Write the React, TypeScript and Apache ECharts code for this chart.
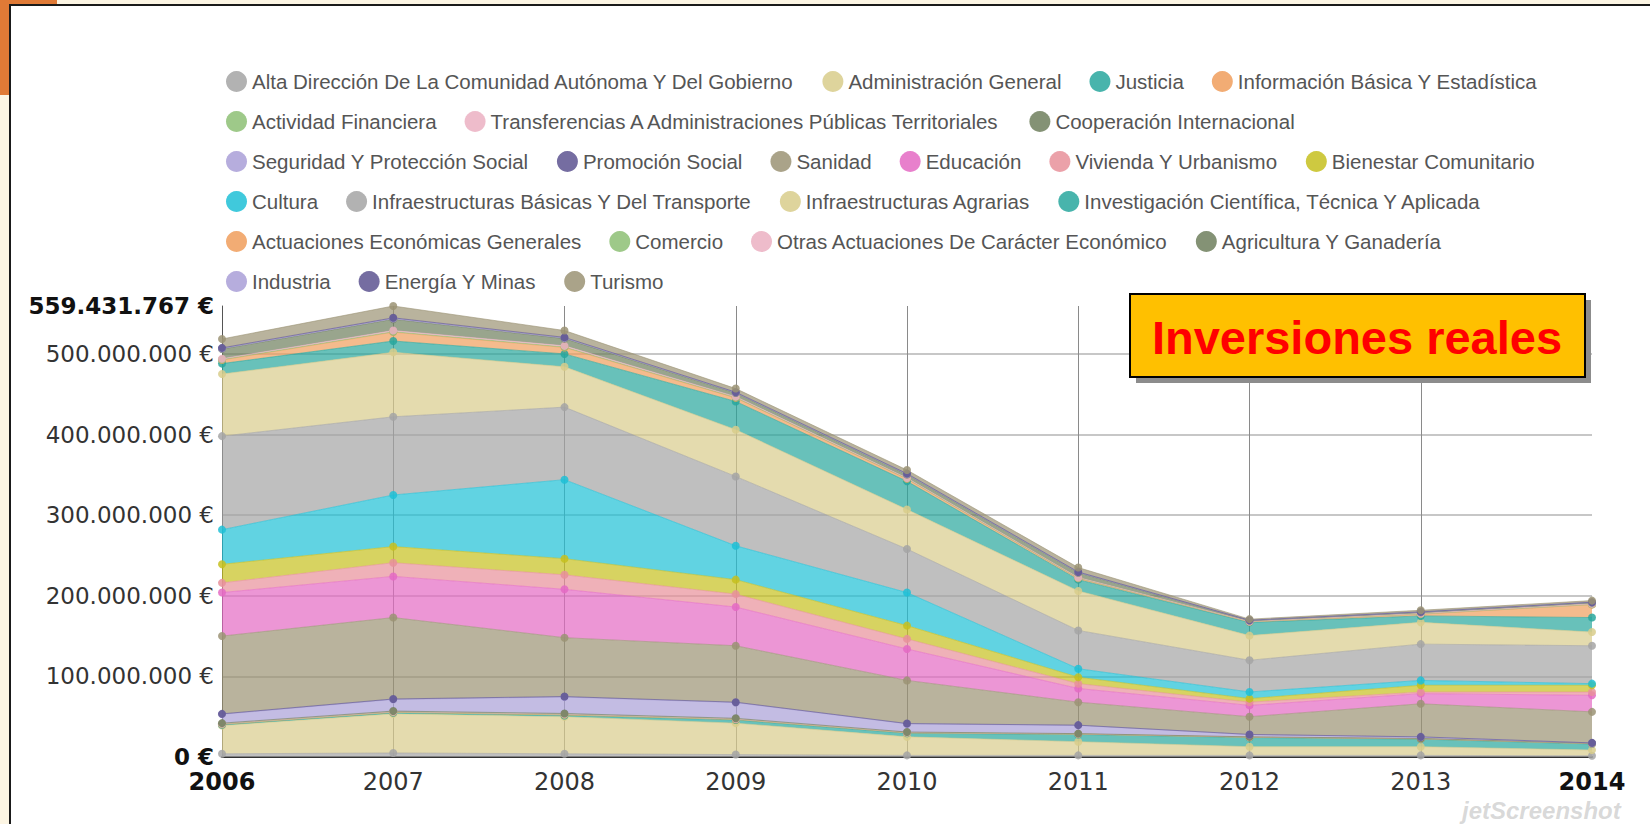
import React, { useEffect, useRef } from "react";
import * as echarts from "echarts";

// ---------- DATA (values in millions of €) ----------
const years = ["2006", "2007", "2008", "2009", "2010", "2011", "2012", "2013", "2014"];

const seriesNames = [
  "Alta Dirección De La Comunidad Autónoma Y Del Gobierno",
  "Administración General",
  "Justicia",
  "Información Básica Y Estadística",
  "Actividad Financiera",
  "Transferencias A Administraciones Públicas Territoriales",
  "Cooperación Internacional",
  "Seguridad Y Protección Social",
  "Promoción Social",
  "Sanidad",
  "Educación",
  "Vivienda Y Urbanismo",
  "Bienestar Comunitario",
  "Cultura",
  "Infraestructuras Básicas Y Del Transporte",
  "Infraestructuras Agrarias",
  "Investigación Científica, Técnica Y Aplicada",
  "Actuaciones Económicas Generales",
  "Comercio",
  "Otras Actuaciones De Carácter Económico",
  "Agricultura Y Ganadería",
  "Industria",
  "Energía Y Minas",
  "Turismo",
];

const altaDireccion = [4, 5, 4, 3, 2, 2, 2, 2, 1.5];
const administracionGeneral = [35, 48.5, 46, 39, 23, 17, 10.8, 10.8, 7.1];
const justicia = [1, 1.3, 1.5, 4, 4.5, 9, 11.4, 9.4, 7.6];
const informacionBasica = [0.6, 0.7, 0.8, 0.6, 0.5, 0.4, 0.3, 0.3, 0.3];
const actividadFinanciera = [0.3, 0.3, 0.3, 0.2, 0.2, 0.1, 0.1, 0.1, 0.1];
const transferencias = [0.4, 0.4, 0.5, 0.4, 0.3, 0.2, 0.2, 0.2, 0.2];
const cooperacion = [0.7, 0.8, 0.9, 0.8, 0.5, 0.3, 0.2, 0.2, 0.2];
const seguridadSocial = [11, 14.4, 20.4, 19.5, 10.1, 10.2, 2.8, 1.8, 0.4];
const promocionSocial = [0.5, 0.6, 0.6, 0.5, 0.4, 0.3, 0.2, 0.2, 0.1];
const sanidad = [96.5, 101, 73, 70, 53.5, 28.5, 22, 41, 38.5];
const educacion = [54, 51, 60, 48, 39, 17, 14, 12.6, 20.5];
const vivienda = [12, 17, 18, 16, 12.5, 6, 4, 2, 4.1];
const bienestar = [23, 20, 20, 18, 16.5, 8, 4.4, 8.4, 8.4];
const cultura = [43, 64, 98, 42, 41, 10.5, 8.3, 6, 2];
const infraBasicas = [116, 97, 90, 86, 54, 47.5, 39.3, 45, 47];
const infraAgrarias = [77, 80, 50, 58, 49, 49, 30.6, 27, 17];
const investigacion = [13, 14, 16, 35, 35, 14, 16.4, 8, 18];
const actuacionesEconomicas = [4.5, 11, 8, 4.5, 3, 1.8, 0.6, 2.2, 16];
const comercio = [0.5, 0.6, 0.6, 0.5, 0.4, 0.3, 0.2, 0.3, 0.3];
const otrasActuaciones = [1, 1.4, 1.4, 1, 0.6, 0.5, 0.2, 0.5, 0.7];
const agricultura = [12, 14, 9, 4.5, 4.5, 6, 1.2, 1.5, 1.5];
const industria = [0.8, 1, 0.8, 0.6, 0.5, 0.5, 0.2, 0.3, 0.3];
const energia = [0.7, 0.8, 0.7, 0.4, 0.5, 0.4, 0.3, 0.2, 0.2];
const turismo = [11, 14.631767, 8.5, 4.5, 4.5, 5.5, 1.3, 2, 2];

const seriesValues = [
  altaDireccion, administracionGeneral, justicia, informacionBasica, actividadFinanciera,
  transferencias, cooperacion, seguridadSocial, promocionSocial, sanidad, educacion,
  vivienda, bienestar, cultura, infraBasicas, infraAgrarias, investigacion,
  actuacionesEconomicas, comercio, otrasActuaciones, agricultura, industria, energia, turismo,
];

const palette = [
  "#a4a4a4", "#d8cc8b", "#28a79d", "#f09e5c", "#8dc074", "#ebb0c2", "#6e7f5d",
  "#a99fd7", "#5d5491", "#9b9374", "#e46ac3", "#e8909a", "#c6c01e", "#1ec0d6",
];

const legendRows = [
  [0, 1, 2, 3],
  [4, 5, 6],
  [7, 8, 9, 10, 11, 12],
  [13, 14, 15, 16],
  [17, 18, 19, 20],
  [21, 22, 23],
];

const yMax = 559431767;
const yInterval = 100000000;

function fmtEuro(v: number): string {
  return Math.round(v).toString().replace(/\B(?=(\d{3})+(?!\d))/g, ".") + " €";
}

export default function App() {
  const ref = useRef<HTMLDivElement>(null);

  useEffect(() => {
    if (!ref.current) return;
    const chart = echarts.init(ref.current, null, { renderer: "svg" });

    const series = seriesNames.map((name, i) => {
      const c = palette[i % palette.length];
      return {
        name,
        type: "line",
        stack: "total",
        data: seriesValues[i].map((v) => Math.round(v * 1e6)),
        symbol: "circle",
        symbolSize: 8,
        showSymbol: true,
        lineStyle: { width: 1, color: c, opacity: 0.6 },
        areaStyle: { color: c, opacity: 0.7 },
        itemStyle: { color: c, opacity: 0.85 },
        emphasis: { disabled: true },
        silent: true,
      };
    });

    const legends = legendRows.map((row, r) => ({
      show: true,
      left: 221,
      top: 66 + r * 40,
      orient: "horizontal",
      itemGap: 28,
      itemWidth: 21,
      itemHeight: 21,
      icon: "circle",
      selectedMode: false,
      textStyle: { fontSize: 20.5, color: "#555", fontFamily: "Liberation Sans" },
      data: row.map((i) => seriesNames[i]),
    }));

    const option: any = {
      animation: false,
      backgroundColor: "#fcf5e3",
      legend: legends,
      grid: { left: 222, right: 58, top: 306, bottom: 67, containLabel: false },
      xAxis: {
        type: "category",
        data: years,
        boundaryGap: false,
        axisLine: { show: true, lineStyle: { color: "#333", width: 2 } },
        axisTick: { show: false },
        splitLine: {
          show: true,
          interval: (idx: number) => idx !== 0 && idx !== years.length - 1,
          lineStyle: { color: "#8a8a8a", width: 1 },
        },
        axisLabel: {
          margin: 13,
          fontSize: 24,
          fontFamily: "DejaVu Sans",
          color: "#333",
          formatter: (v: string, idx: number) =>
            idx === 0 || idx === years.length - 1 ? `{b|${v}}` : v,
          rich: {
            b: { fontSize: 24, fontFamily: "DejaVu Sans", fontWeight: "bold", color: "#111" },
          },
        },
      },
      yAxis: {
        type: "value",
        min: 0,
        max: yMax,
        interval: yInterval,
        axisLine: { show: true, lineStyle: { color: "#555", width: 1 } },
        axisTick: { show: false },
        splitLine: {
          show: true,
          showMaxLine: false,
          showMinLine: false,
          lineStyle: { color: "#b4b4b4", width: 1.5 },
        },
        axisLabel: {
          margin: 8,
          fontSize: 23,
          fontFamily: "DejaVu Sans",
          color: "#333",
          formatter: (v: number) =>
            v === 0 || v >= yMax - 1 ? `{b|${fmtEuro(v)}}` : fmtEuro(v),
          rich: {
            b: { fontSize: 23, fontFamily: "DejaVu Sans", fontWeight: "bold", color: "#111" },
          },
        },
      },
      series,
      graphic: [
        {
          type: "rect",
          z: -10,
          silent: true,
          shape: { x: 0, y: 0, width: 57, height: 95 },
          style: { fill: "#e07a36" },
        },
        {
          type: "rect",
          z: -9,
          silent: true,
          shape: { x: 10, y: 5, width: 1700, height: 900 },
          style: { fill: "#ffffff", stroke: "#1a1a1a", lineWidth: 2 },
        },
        {
          type: "rect",
          z: 20,
          silent: true,
          shape: { x: 1136, y: 300, width: 455, height: 83 },
          style: { fill: "#8c8c8c" },
        },
        {
          type: "rect",
          z: 21,
          silent: true,
          shape: { x: 1130, y: 294, width: 455, height: 83 },
          style: { fill: "#ffc000", stroke: "#000", lineWidth: 2 },
        },
        {
          type: "text",
          z: 22,
          silent: true,
          style: {
            text: "Inversiones reales",
            x: 1357,
            y: 337,
            textAlign: "center",
            textVerticalAlign: "middle",
            align: "center",
            verticalAlign: "middle",
            fill: "#ff0000",
            fontSize: 47,
            fontWeight: "bold",
            fontFamily: "Liberation Sans",
          },
        },
        {
          type: "text",
          z: 5,
          silent: true,
          style: {
            text: "jetScreenshot",
            x: 1462,
            y: 810,
            textAlign: "left",
            textVerticalAlign: "middle",
            align: "left",
            verticalAlign: "middle",
            fill: "rgba(170,170,170,0.45)",
            fontSize: 24,
            fontStyle: "italic",
            fontWeight: "bold",
            fontFamily: "Liberation Sans",
          },
        },
      ],
    };

    chart.setOption(option);
    return () => chart.dispose();
  }, []);

  return (
    <div
      ref={ref}
      style={{ position: "fixed", left: 0, top: 0, width: "1650px", height: "824px" }}
    />
  );
}
